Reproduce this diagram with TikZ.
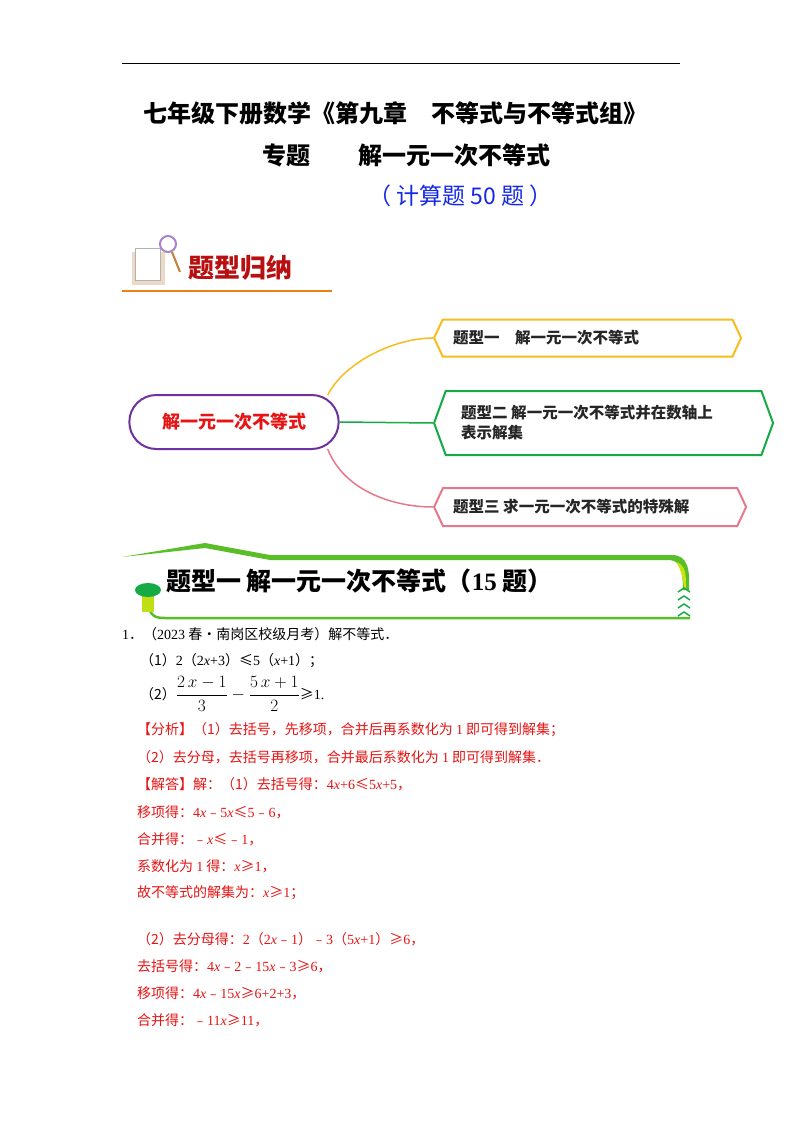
\documentclass[tikz,border=0pt]{standalone}
\usepackage{amsmath}
\usepackage{fontspec}
\setmainfont{Noto Sans CJK SC}
\newfontfamily\lat{Liberation Serif}
\usetikzlibrary{shapes.geometric,shapes.misc,shapes.symbols,calc}
\newcommand{\xx}{{\lat\itshape x}}
\definecolor{myred}{RGB}{230,20,20}
\definecolor{myblue}{RGB}{20,40,230}
\definecolor{myyel}{RGB}{245,190,30}
\definecolor{mygrn}{RGB}{20,170,70}
\definecolor{mypink}{RGB}{230,120,140}
\definecolor{mypur}{RGB}{110,50,160}
\definecolor{bangrn}{RGB}{90,190,40}
\tikzset{
 body/.style={anchor=west,inner sep=0pt,font=\fontsize{14}{16}\selectfont},
 red/.style={body,text=myred},
 tt/.style={inner sep=0pt,font=\fontsize{24}{28}\selectfont\bfseries},
 hexa/.style={draw,line width=2pt,minimum height=36pt,anchor=west,inner sep=0pt},
 mm/.style={anchor=west,inner sep=0pt,font=\fontsize{15.5}{20}\selectfont\bfseries,text=black!85},
}
\begin{document}
\begin{tikzpicture}[x=1pt,y=-1pt]
\useasboundingbox (0,0) rectangle (800,1132);
\fill[white] (0,0) rectangle (800,1132);
\coordinate (r1) at (122,64); \coordinate (r2) at (680,64);
\draw[line width=1pt] (r1) -- (r2);
\node[tt] (t1) at (395,113) {七年级下册数学《第九章\quad 不等式与不等式组》};
\node[tt,anchor=west] (t2) at (262,155) {专题\qquad 解一元一次不等式};
\node[tt,anchor=west,text=myblue,font=\fontsize{23}{26}\selectfont] (t3) at (368,196) {（ 计算题 50 题 ）};
% 题型归纳 header
\fill[brown!30] (132,252) rectangle (165,285);
\draw[gray!60,line width=1pt,fill=white] (135,248) rectangle (160,280);
\draw[mypur!60,line width=2pt] (168,244) circle (8);
\draw[brown,line width=2pt] (172,252) -- (180,272);
\node[anchor=west,inner sep=0pt,text=myred!80!black,font=\fontsize{26}{28}\selectfont\bfseries] (hd) at (188,268) {题型归纳};
\coordinate (u1) at (122,291); \coordinate (u2) at (332,291);
\draw[orange!70!brown,line width=2.5pt] (u1) -- (u2);
% mind map
\node[draw=mypur,line width=2pt,rounded rectangle,minimum width=216pt,minimum height=54pt,text=myred,font=\fontsize{18}{20}\selectfont\bfseries] (c) at (234,422) {解一元一次不等式};
\node[hexa,draw=myyel,signal,signal to=east and west,signal pointer angle=130,minimum width=307pt,minimum height=37pt] (b1) at (433,338) {};
\node[mm] at (453,338) {题型一\quad 解一元一次不等式};
\node[hexa,draw=mygrn,signal,signal to=east and west,signal pointer angle=140,minimum width=339pt,minimum height=64pt] (b2) at (433,423) {};
\node[mm,align=left,anchor=west] at (461,423) {题型二 解一元一次不等式并在数轴上\\表示解集};
\node[hexa,draw=mypink,signal,signal to=east and west,signal pointer angle=130,minimum width=312pt,minimum height=38pt] (b3) at (433,507) {};
\node[mm] at (453,507) {题型三 求一元一次不等式的特殊解};
\draw[myyel,line width=1.5pt] ($(c.east)+(-12,-27)$) .. controls ($(c.east)+(5,-60)$) and (395,338) .. (b1.west);
\draw[mygrn,line width=1.5pt] (c.east) -- (b2.west);
\draw[mypink,line width=1.5pt] ($(c.east)+(-12,27)$) .. controls ($(c.east)+(5,70)$) and (395,507) .. (b3.west);
% banner
\coordinate (p0) at (122,557);\coordinate (p1) at (205,543);\coordinate (p2) at (270,555);
\fill[bangrn] (p0) -- (p1) -- (p2) -- (672,555) .. controls (688,555) and (690,570) .. (689,590) -- (683,590) .. controls (683,566) and (678,560) .. (668,560) -- (270,560) -- (205,548) -- cycle;
\fill[yellow!80!green] (676,562) .. controls (686,565) and (686,575) .. (686,588) -- (684,588) .. controls (683,576) and (680,568) .. (676,562);
\draw[bangrn,line width=2.5pt] (150,595) -- (150,608) .. controls (150,616) and (156,618) .. (165,618) -- (690,618);
\fill[yellow!75!green] (142,592) rectangle (154,612);
\fill[mygrn] (148,590) ellipse (13 and 7);
\foreach \yy in {588,596,604,612}{\draw[mygrn,line width=1.5pt] (678,\yy+4) -- (684,\yy) -- (690,\yy+4);}
\node[tt,anchor=west,font=\fontsize{25}{28}\selectfont\bfseries] (bt) at (166,581) {题型一\ 解一元一次不等式（{\lat 15} 题）};
% body
\node[body] (l1) at (122,634) {{\lat 1}．（{\lat 2023} 春•南岗区校级月考）解不等式．};
\node[body] (l2) at (140,661) {（1）{\lat 2}（{\lat 2\xx+3}）≤{\lat 5}（{\lat\xx+1}）；};
\node[body] (l3) at (140,694) {（2）\fontsize{17}{20}\selectfont$\dfrac{2\,x-1}{3}-\dfrac{5\,x+1}{2}$\fontsize{14}{16}\selectfont≥{\lat 1.}};
\node[red] (l4) at (137,730) {【分析】（1）去括号，先移项，合并后再系数化为 {\lat 1} 即可得到解集；};
\node[red] (l5) at (137,757) {（2）去分母，去括号再移项，合并最后系数化为 {\lat 1} 即可得到解集．};
\node[red] (l6) at (137,784) {【解答】解：（1）去括号得：{\lat 4\xx+6}≤{\lat 5\xx+5}，};
\node[red] (l7) at (137,812) {移项得：{\lat 4\xx}﹣{\lat 5\xx}≤{\lat 5}﹣{\lat 6}，};
\node[red] (l8) at (137,839) {合并得：﹣\xx≤﹣{\lat 1}，};
\node[red] (l9) at (137,866) {系数化为 {\lat 1} 得：\xx≥{\lat 1}，};
\node[red] (l10) at (137,893) {故不等式的解集为：\xx≥{\lat 1}；};
\node[red] (l11) at (137,939) {（2）去分母得：{\lat 2}（{\lat 2\xx}﹣{\lat 1}）﹣{\lat 3}（{\lat 5\xx+1}）≥{\lat 6}，};
\node[red] (l12) at (137,966) {去括号得：{\lat 4\xx}﹣{\lat 2}﹣{\lat 15\xx}﹣{\lat 3}≥{\lat 6}，};
\node[red] (l13) at (137,993) {移项得：{\lat 4\xx}﹣{\lat 15\xx}≥{\lat 6+2+3}，};
\node[red] (l14) at (137,1020) {合并得：﹣{\lat 11\xx}≥{\lat 11}，};
\end{tikzpicture}
\end{document}
